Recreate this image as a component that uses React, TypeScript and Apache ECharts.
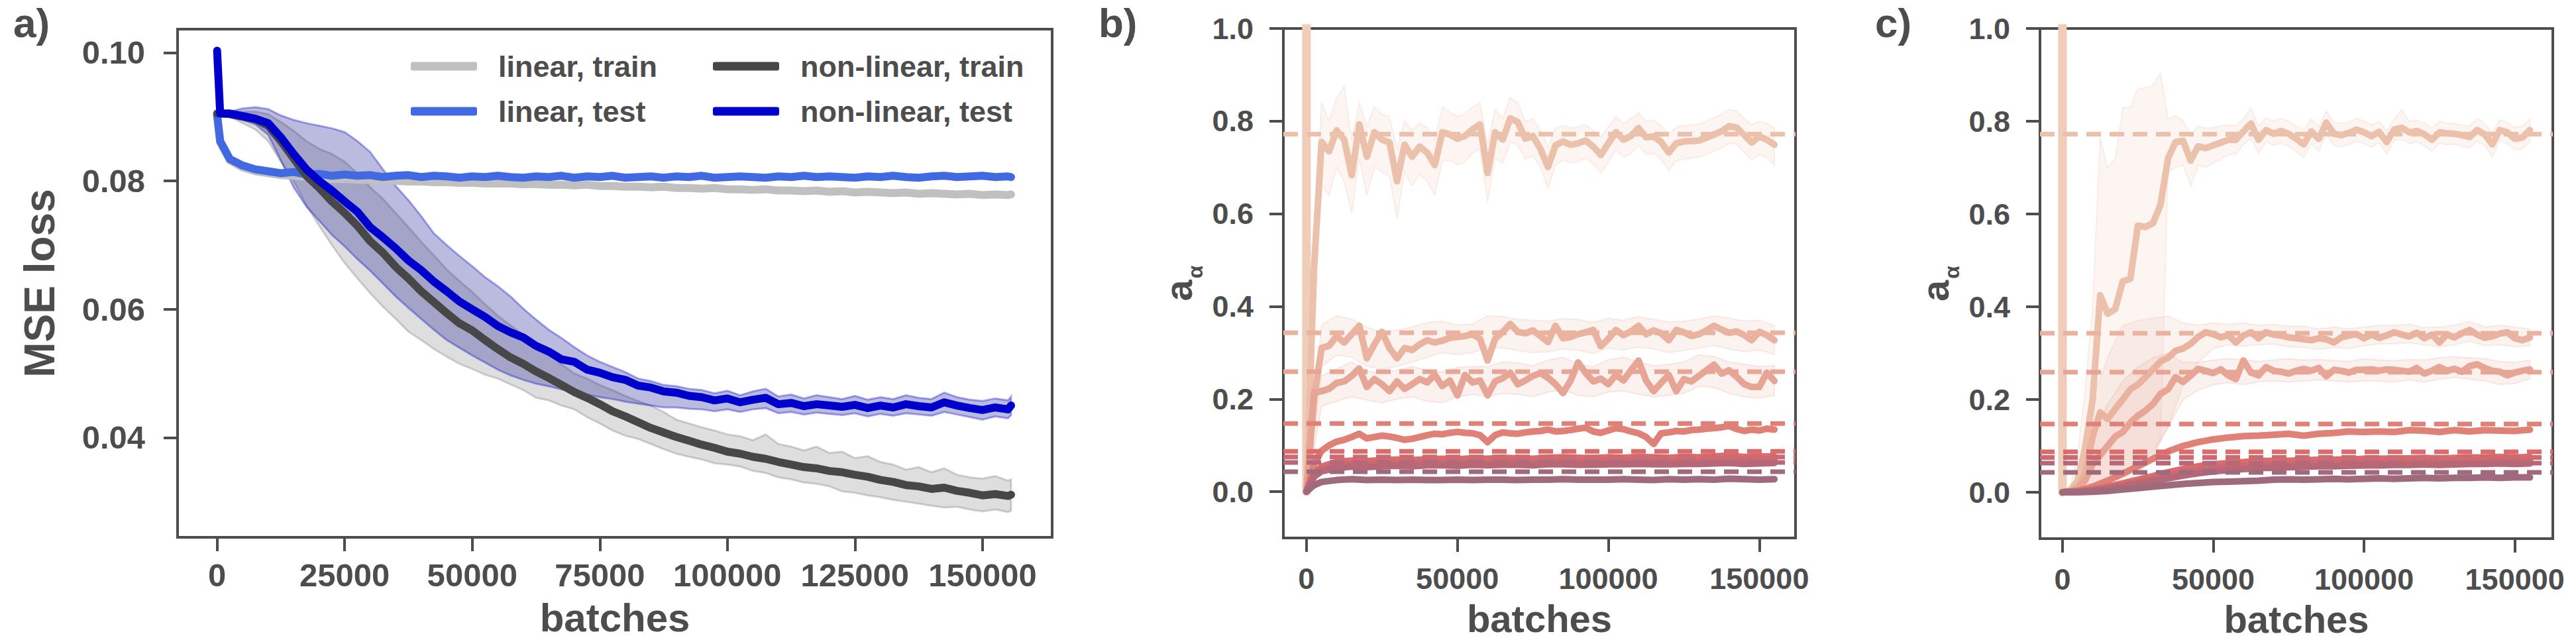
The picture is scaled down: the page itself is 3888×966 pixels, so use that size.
import React, { useEffect, useRef } from "react";
import * as echarts from "echarts";

const TEXT = "#4d4d4d";
const FONT = '"Liberation Sans", Arial, Helvetica, sans-serif';

// ---------------- panel a : MSE loss ----------------
const xA = [0, 600, 2500, 5000, 7500, 10000, 12500, 15000, 17500, 20000,
  22500, 25000, 27500, 30000, 32500, 35000, 37500, 40000, 42500, 45000,
  47500, 50000, 52500, 55000, 57500, 60000, 62500, 65000, 67500, 70000,
  72500, 75000, 77500, 80000, 82500, 85000, 87500, 90000, 92500, 95000,
  97500, 100000, 102500, 105000, 107500, 110000, 112500, 115000, 117500, 120000,
  122500, 125000, 127500, 130000, 132500, 135000, 137500, 140000, 142500, 145000,
  147500, 150000, 152500, 155000, 155600];

const linTrain = [0.0903, 0.0860, 0.0832, 0.0821, 0.0815, 0.0812, 0.0809, 0.0808, 0.0806, 0.0805,
  0.0803, 0.0803, 0.0802, 0.0801, 0.0800, 0.0800, 0.0799, 0.0799, 0.0798, 0.0798,
  0.0797, 0.0797, 0.0796, 0.0796, 0.0796, 0.0795, 0.0795, 0.0794, 0.0794, 0.0793,
  0.0794, 0.0792, 0.0792, 0.0791, 0.0791, 0.0790, 0.0791, 0.0789, 0.0789, 0.0788,
  0.0789, 0.0787, 0.0787, 0.0786, 0.0787, 0.0785, 0.0785, 0.0784, 0.0785, 0.0783,
  0.0784, 0.0782, 0.0783, 0.0782, 0.0781, 0.0782, 0.0780, 0.0781, 0.0780, 0.0779,
  0.0780, 0.0778, 0.0779, 0.0778, 0.0779];

const linTest = [0.0903, 0.0862, 0.0834, 0.0824, 0.0818, 0.0815, 0.0812, 0.0814, 0.0810, 0.0811,
  0.0808, 0.0810, 0.0808, 0.0809, 0.0806, 0.0808, 0.0809, 0.0806, 0.0808, 0.0807,
  0.0805, 0.0807, 0.0806, 0.0808, 0.0806, 0.0805, 0.0807, 0.0806, 0.0808, 0.0805,
  0.0807, 0.0806, 0.0808, 0.0805, 0.0806, 0.0807, 0.0805, 0.0807, 0.0806, 0.0808,
  0.0805, 0.0806, 0.0807, 0.0806, 0.0805, 0.0807, 0.0806, 0.0808, 0.0806, 0.0807,
  0.0806, 0.0805, 0.0807, 0.0806, 0.0808, 0.0806, 0.0805, 0.0807, 0.0808, 0.0806,
  0.0807, 0.0808, 0.0806, 0.0807, 0.0806];

const nlTrain = [0.0905, 0.0905, 0.0904, 0.0900, 0.0896, 0.0886, 0.0862, 0.0835, 0.0808, 0.0789,
  0.0768, 0.0750, 0.0730, 0.0706, 0.0688, 0.0666, 0.0648, 0.0628, 0.0611, 0.0594,
  0.0578, 0.0567, 0.0552, 0.0538, 0.0525, 0.0515, 0.0503, 0.0493, 0.0482, 0.0471,
  0.0462, 0.0452, 0.0441, 0.0433, 0.0424, 0.0415, 0.0408, 0.0401, 0.0395, 0.0389,
  0.0384, 0.0378, 0.0375, 0.0370, 0.0367, 0.0362, 0.0358, 0.0354, 0.0352, 0.0348,
  0.0346, 0.0342, 0.0339, 0.0334, 0.0331, 0.0326, 0.0324, 0.0320, 0.0322, 0.0317,
  0.0314, 0.0310, 0.0312, 0.0309, 0.0311];

const nlTrainHi = [0.0905, 0.0906, 0.0907, 0.0908, 0.0908, 0.0904, 0.0892, 0.0878, 0.0862, 0.0850,
  0.0842, 0.0830, 0.0812, 0.0790, 0.0772, 0.0750, 0.0728, 0.0705, 0.0684, 0.0662,
  0.0644, 0.0627, 0.0608, 0.0590, 0.0575, 0.0560, 0.0545, 0.0530, 0.0514, 0.0500,
  0.0492, 0.0482, 0.0474, 0.0465, 0.0457, 0.0450, 0.0440, 0.0428, 0.0422, 0.0416,
  0.0411, 0.0405, 0.0402, 0.0396, 0.0405, 0.0390, 0.0386, 0.0380, 0.0386, 0.0376,
  0.0378, 0.0368, 0.0371, 0.0362, 0.0358, 0.0350, 0.0354, 0.0346, 0.0352, 0.0342,
  0.0338, 0.0336, 0.0340, 0.0333, 0.0335];

const nlTrainLo = [0.0904, 0.0904, 0.0900, 0.0890, 0.0880, 0.0862, 0.0830, 0.0800, 0.0762, 0.0730,
  0.0700, 0.0672, 0.0648, 0.0625, 0.0604, 0.0585, 0.0565, 0.0552, 0.0538, 0.0526,
  0.0515, 0.0507, 0.0498, 0.0492, 0.0483, 0.0474, 0.0462, 0.0458, 0.0450, 0.0444,
  0.0432, 0.0422, 0.0411, 0.0403, 0.0398, 0.0390, 0.0382, 0.0375, 0.0370, 0.0366,
  0.0360, 0.0358, 0.0355, 0.0348, 0.0345, 0.0338, 0.0335, 0.0330, 0.0328, 0.0324,
  0.0316, 0.0314, 0.0310, 0.0307, 0.0303, 0.0300, 0.0297, 0.0294, 0.0291, 0.0292,
  0.0288, 0.0285, 0.0288, 0.0284, 0.0286];

const nlTest = [0.1003, 0.0905, 0.0905, 0.0901, 0.0897, 0.0890, 0.0868, 0.0842, 0.0818, 0.0800,
  0.0785, 0.0768, 0.0752, 0.0728, 0.0712, 0.0695, 0.0676, 0.0661, 0.0643, 0.0628,
  0.0612, 0.0600, 0.0588, 0.0574, 0.0564, 0.0556, 0.0543, 0.0534, 0.0522, 0.0518,
  0.0506, 0.0501, 0.0494, 0.0490, 0.0481, 0.0478, 0.0472, 0.0470, 0.0465, 0.0463,
  0.0458, 0.0461, 0.0455, 0.0459, 0.0462, 0.0452, 0.0454, 0.0449, 0.0452, 0.0450,
  0.0448, 0.0451, 0.0446, 0.0450, 0.0447, 0.0452, 0.0449, 0.0447, 0.0455, 0.0450,
  0.0446, 0.0443, 0.0447, 0.0444, 0.0450];

const nlTestHi = [0.0905, 0.0906, 0.0908, 0.0913, 0.0915, 0.0912, 0.0902, 0.0895, 0.0890, 0.0886,
  0.0882, 0.0876, 0.0862, 0.0845, 0.0818, 0.0792, 0.0770, 0.0745, 0.0718, 0.0700,
  0.0683, 0.0667, 0.0650, 0.0636, 0.0620, 0.0601, 0.0584, 0.0568, 0.0555, 0.0541,
  0.0528, 0.0518, 0.0510, 0.0502, 0.0492, 0.0488, 0.0482, 0.0480, 0.0476, 0.0474,
  0.0469, 0.0473, 0.0466, 0.0472, 0.0476, 0.0464, 0.0467, 0.0461, 0.0466, 0.0463,
  0.0460, 0.0465, 0.0459, 0.0463, 0.0460, 0.0466, 0.0462, 0.0460, 0.0470, 0.0463,
  0.0459, 0.0457, 0.0461, 0.0458, 0.0464];

const nlTestLo = [0.0905, 0.0904, 0.0900, 0.0895, 0.0888, 0.0872, 0.0832, 0.0790, 0.0760, 0.0738,
  0.0716, 0.0698, 0.0678, 0.0660, 0.0640, 0.0620, 0.0602, 0.0585, 0.0568, 0.0552,
  0.0540, 0.0528, 0.0517, 0.0506, 0.0497, 0.0490, 0.0484, 0.0480, 0.0475, 0.0471,
  0.0467, 0.0463, 0.0460, 0.0456, 0.0453, 0.0450, 0.0447, 0.0447, 0.0445, 0.0444,
  0.0441, 0.0444, 0.0440, 0.0444, 0.0446, 0.0438, 0.0440, 0.0436, 0.0439, 0.0437,
  0.0435, 0.0438, 0.0433, 0.0437, 0.0434, 0.0438, 0.0436, 0.0434, 0.0440, 0.0436,
  0.0432, 0.0428, 0.0433, 0.0430, 0.0435];

const lossTicks = [0.04, 0.06, 0.08, 0.1];
const batchTicksA = [0, 25000, 50000, 75000, 100000, 125000, 150000];
const batchTicksBC = [0, 50000, 100000, 150000];
const alphaTicks = [0, 0.2, 0.4, 0.6, 0.8, 1.0];

// ---------------- panels b and c : a_alpha ----------------
const xB = [0, 2500, 5000, 7500, 10000, 12500, 15000, 17500, 20000, 22500,
  25000, 27500, 30000, 32500, 35000, 37500, 40000, 42500, 45000, 47500,
  50000, 52500, 55000, 57500, 60000, 62500, 65000, 67500, 70000, 72500,
  75000, 77500, 80000, 82500, 85000, 87500, 90000, 92500, 95000, 97500,
  100000, 102500, 105000, 107500, 110000, 112500, 115000, 117500, 120000, 122500,
  125000, 127500, 130000, 132500, 135000, 137500, 140000, 142500, 145000, 147500,
  150000, 152500, 155000];
const xBc = [0, 2500, 5000, 10000, 15000, 20000, 25000, 30000, 35000, 40000, 45000,
  50000, 55000, 60000, 65000, 70000, 75000, 80000, 85000, 90000, 95000, 100000,
  105000, 110000, 115000, 120000, 125000, 130000, 135000, 140000, 145000, 150000, 155000];
const x5 = [0, 5000, 10000, 15000, 20000, 25000, 30000, 35000, 40000, 45000,
  50000, 55000, 60000, 65000, 70000, 75000, 80000, 85000, 90000, 95000,
  100000, 105000, 110000, 115000, 120000, 125000, 130000, 135000, 140000, 145000,
  150000, 155000];

// true values (dashed)
const trueAlpha = [0.772, 0.343, 0.259, 0.147, 0.087, 0.075, 0.063, 0.043];
const spikeXs = [0, 0];
const spikeVals = [0, 1.3];

const b1 = [0.000, 0.480, 0.755, 0.735, 0.780, 0.760, 0.683, 0.793, 0.723, 0.776,
  0.760, 0.754, 0.670, 0.749, 0.723, 0.745, 0.732, 0.705, 0.776, 0.771,
  0.762, 0.768, 0.782, 0.793, 0.688, 0.776, 0.760, 0.806, 0.798, 0.762,
  0.768, 0.740, 0.701, 0.748, 0.756, 0.749, 0.752, 0.758, 0.745, 0.727,
  0.752, 0.776, 0.760, 0.768, 0.785, 0.765, 0.767, 0.755, 0.732, 0.752,
  0.756, 0.757, 0.758, 0.764, 0.771, 0.778, 0.789, 0.786, 0.770, 0.754,
  0.767, 0.760, 0.749];
const b1Hi = [0.000, 0.550, 0.840, 0.800, 0.850, 0.875, 0.760, 0.840, 0.790, 0.830,
  0.815, 0.810, 0.740, 0.800, 0.780, 0.795, 0.785, 0.760, 0.830, 0.820,
  0.810, 0.815, 0.830, 0.840, 0.750, 0.825, 0.805, 0.850, 0.840, 0.800,
  0.805, 0.780, 0.745, 0.785, 0.790, 0.785, 0.788, 0.792, 0.780, 0.765,
  0.788, 0.810, 0.795, 0.805, 0.818, 0.800, 0.802, 0.790, 0.770, 0.788,
  0.790, 0.792, 0.793, 0.800, 0.808, 0.815, 0.825, 0.822, 0.806, 0.792,
  0.800, 0.795, 0.785];
const b1Lo = [0.000, 0.400, 0.660, 0.640, 0.700, 0.670, 0.600, 0.720, 0.640, 0.700,
  0.690, 0.680, 0.590, 0.690, 0.660, 0.685, 0.670, 0.640, 0.715, 0.715,
  0.705, 0.712, 0.730, 0.740, 0.625, 0.720, 0.708, 0.755, 0.748, 0.718,
  0.725, 0.700, 0.655, 0.705, 0.716, 0.710, 0.712, 0.720, 0.708, 0.688,
  0.712, 0.738, 0.722, 0.730, 0.748, 0.728, 0.730, 0.718, 0.694, 0.714,
  0.718, 0.720, 0.722, 0.728, 0.735, 0.742, 0.752, 0.750, 0.732, 0.716,
  0.728, 0.720, 0.705];
const b2 = [0.000, 0.200, 0.310, 0.315, 0.336, 0.322, 0.340, 0.358, 0.288, 0.318,
  0.345, 0.310, 0.288, 0.310, 0.306, 0.318, 0.327, 0.322, 0.326, 0.332,
  0.334, 0.336, 0.340, 0.330, 0.283, 0.330, 0.345, 0.362, 0.345, 0.342,
  0.348, 0.336, 0.323, 0.358, 0.331, 0.334, 0.340, 0.344, 0.349, 0.314,
  0.330, 0.349, 0.338, 0.346, 0.358, 0.340, 0.348, 0.342, 0.327, 0.349,
  0.344, 0.336, 0.340, 0.348, 0.358, 0.350, 0.343, 0.346, 0.338, 0.327,
  0.345, 0.338, 0.327];
const b2Hi = [0.000, 0.360, 0.380, 0.372, 0.355, 0.345, 0.348, 0.356, 0.365, 0.368,
  0.360, 0.362, 0.380, 0.378, 0.372, 0.370, 0.368, 0.374, 0.372, 0.365,
  0.375, 0.370, 0.378, 0.372, 0.366, 0.368, 0.372, 0.380, 0.375, 0.368,
  0.370, 0.358];
const b2Lo = [0.000, 0.270, 0.295, 0.290, 0.270, 0.265, 0.270, 0.280, 0.290, 0.300,
  0.296, 0.300, 0.312, 0.310, 0.305, 0.300, 0.302, 0.308, 0.305, 0.298,
  0.310, 0.306, 0.312, 0.308, 0.300, 0.305, 0.310, 0.316, 0.308, 0.302,
  0.306, 0.296];
const b3 = [0.000, 0.214, 0.217, 0.222, 0.235, 0.238, 0.250, 0.266, 0.226, 0.243,
  0.232, 0.217, 0.238, 0.222, 0.232, 0.243, 0.236, 0.252, 0.228, 0.240,
  0.208, 0.252, 0.236, 0.240, 0.208, 0.238, 0.245, 0.257, 0.232, 0.240,
  0.250, 0.256, 0.246, 0.232, 0.213, 0.240, 0.279, 0.256, 0.238, 0.244,
  0.232, 0.252, 0.240, 0.262, 0.283, 0.240, 0.217, 0.235, 0.252, 0.217,
  0.243, 0.238, 0.250, 0.262, 0.274, 0.255, 0.262, 0.248, 0.232, 0.226,
  0.226, 0.257, 0.239];
const b3Hi = [0.000, 0.250, 0.265, 0.280, 0.260, 0.255, 0.262, 0.270, 0.262, 0.258,
  0.268, 0.270, 0.270, 0.280, 0.278, 0.272, 0.284, 0.290, 0.275, 0.270,
  0.285, 0.290, 0.280, 0.272, 0.275, 0.280, 0.295, 0.292, 0.280, 0.275,
  0.270, 0.272];
const b3Lo = [0.000, 0.185, 0.195, 0.205, 0.198, 0.192, 0.200, 0.205, 0.195, 0.192,
  0.205, 0.210, 0.205, 0.212, 0.210, 0.205, 0.215, 0.220, 0.208, 0.205,
  0.215, 0.218, 0.210, 0.205, 0.208, 0.212, 0.228, 0.225, 0.212, 0.205,
  0.202, 0.208];
const b4 = [0.000, 0.060, 0.088, 0.100, 0.108, 0.112, 0.118, 0.125, 0.115, 0.118,
  0.121, 0.119, 0.116, 0.112, 0.114, 0.118, 0.122, 0.125, 0.124, 0.127,
  0.129, 0.127, 0.126, 0.122, 0.107, 0.122, 0.128, 0.126, 0.125, 0.128,
  0.130, 0.131, 0.134, 0.130, 0.131, 0.133, 0.136, 0.138, 0.130, 0.127,
  0.132, 0.137, 0.135, 0.130, 0.126, 0.118, 0.103, 0.126, 0.128, 0.131,
  0.130, 0.133, 0.134, 0.136, 0.137, 0.139, 0.142, 0.135, 0.131, 0.134,
  0.132, 0.136, 0.134];
const b5 = [0, 0.040, 0.054, 0.064, 0.067, 0.066, 0.068, 0.069, 0.068, 0.070,
  0.071, 0.070, 0.072, 0.071, 0.073, 0.072, 0.071, 0.073, 0.074, 0.073,
  0.072, 0.074, 0.073, 0.075, 0.074, 0.073, 0.075, 0.074, 0.076, 0.078,
  0.075, 0.076, 0.076];
const b6 = [0, 0.036, 0.049, 0.057, 0.060, 0.059, 0.061, 0.062, 0.061, 0.063,
  0.063, 0.062, 0.064, 0.063, 0.065, 0.064, 0.063, 0.065, 0.066, 0.065,
  0.064, 0.066, 0.065, 0.067, 0.066, 0.065, 0.067, 0.066, 0.068, 0.069,
  0.067, 0.068, 0.069];
const b7 = [0, 0.032, 0.044, 0.051, 0.054, 0.053, 0.055, 0.056, 0.055, 0.057,
  0.057, 0.056, 0.058, 0.057, 0.058, 0.058, 0.057, 0.059, 0.059, 0.058,
  0.058, 0.059, 0.059, 0.060, 0.059, 0.059, 0.060, 0.060, 0.061, 0.062,
  0.060, 0.061, 0.062];
const b8 = [0, 0.014, 0.021, 0.025, 0.027, 0.025, 0.026, 0.025, 0.026, 0.025,
  0.025, 0.026, 0.025, 0.026, 0.026, 0.025, 0.026, 0.026, 0.027, 0.026,
  0.026, 0.026, 0.027, 0.026, 0.025, 0.027, 0.026, 0.027, 0.026, 0.028,
  0.027, 0.026, 0.027];

const c1 = [0.000, 0.003, 0.025, 0.095, 0.200, 0.425, 0.385, 0.395, 0.455, 0.460,
  0.575, 0.572, 0.580, 0.620, 0.720, 0.755, 0.758, 0.715, 0.746, 0.742,
  0.748, 0.754, 0.760, 0.760, 0.778, 0.795, 0.760, 0.781, 0.773, 0.779,
  0.773, 0.762, 0.750, 0.778, 0.762, 0.797, 0.773, 0.770, 0.775, 0.782,
  0.776, 0.768, 0.777, 0.755, 0.782, 0.786, 0.776, 0.779, 0.772, 0.760,
  0.776, 0.774, 0.773, 0.770, 0.766, 0.781, 0.772, 0.750, 0.781, 0.776,
  0.762, 0.765, 0.781];
const c1Hi = [0.000, 0.010, 0.080, 0.220, 0.400, 0.765, 0.700, 0.720, 0.830, 0.830,
  0.870, 0.872, 0.878, 0.905, 0.805, 0.812, 0.800, 0.770, 0.790, 0.785,
  0.786, 0.790, 0.792, 0.790, 0.805, 0.828, 0.790, 0.808, 0.800, 0.806,
  0.800, 0.790, 0.780, 0.805, 0.788, 0.822, 0.798, 0.795, 0.798, 0.806,
  0.800, 0.792, 0.800, 0.780, 0.805, 0.825, 0.800, 0.802, 0.796, 0.785,
  0.800, 0.796, 0.795, 0.792, 0.790, 0.805, 0.795, 0.775, 0.803, 0.798,
  0.786, 0.790, 0.805];
const c1Lo = [0.000, 0.000, 0.000, 0.005, 0.010, 0.020, 0.025, 0.030, 0.040, 0.050,
  0.060, 0.070, 0.080, 0.110, 0.690, 0.700, 0.705, 0.660, 0.705, 0.700,
  0.710, 0.718, 0.728, 0.730, 0.750, 0.762, 0.730, 0.755, 0.748, 0.752,
  0.746, 0.735, 0.722, 0.752, 0.735, 0.772, 0.748, 0.745, 0.750, 0.757,
  0.752, 0.744, 0.753, 0.730, 0.758, 0.762, 0.752, 0.755, 0.748, 0.735,
  0.752, 0.750, 0.750, 0.746, 0.742, 0.757, 0.748, 0.722, 0.757, 0.752,
  0.738, 0.740, 0.756];
const c2 = [0.000, 0.003, 0.012, 0.040, 0.120, 0.172, 0.158, 0.180, 0.200, 0.222,
  0.232, 0.248, 0.265, 0.282, 0.290, 0.305, 0.310, 0.320, 0.335, 0.345,
  0.341, 0.334, 0.339, 0.323, 0.338, 0.345, 0.332, 0.345, 0.340, 0.338,
  0.334, 0.332, 0.330, 0.328, 0.332, 0.330, 0.323, 0.334, 0.338, 0.341,
  0.332, 0.340, 0.333, 0.338, 0.345, 0.340, 0.336, 0.344, 0.332, 0.340,
  0.323, 0.340, 0.334, 0.343, 0.350, 0.340, 0.333, 0.336, 0.342, 0.345,
  0.332, 0.328, 0.334];
const c2Hi = [0.000, 0.030, 0.200, 0.290, 0.360, 0.370, 0.375, 0.380, 0.365, 0.360,
  0.365, 0.362, 0.365, 0.360, 0.362, 0.358, 0.358, 0.352, 0.356, 0.352,
  0.356, 0.360, 0.360, 0.362, 0.355, 0.356, 0.360, 0.368, 0.356, 0.360,
  0.356, 0.352];
const c2Lo = [0.000, 0.000, 0.010, 0.020, 0.040, 0.060, 0.090, 0.140, 0.230, 0.280,
  0.310, 0.318, 0.315, 0.318, 0.320, 0.314, 0.312, 0.308, 0.312, 0.310,
  0.316, 0.320, 0.320, 0.322, 0.318, 0.314, 0.318, 0.326, 0.316, 0.318,
  0.314, 0.316];
const c3 = [0.000, 0.002, 0.008, 0.025, 0.060, 0.080, 0.100, 0.120, 0.130, 0.150,
  0.165, 0.176, 0.190, 0.212, 0.222, 0.248, 0.238, 0.252, 0.266, 0.262,
  0.257, 0.265, 0.252, 0.244, 0.284, 0.258, 0.252, 0.270, 0.262, 0.260,
  0.256, 0.262, 0.266, 0.262, 0.268, 0.250, 0.264, 0.262, 0.258, 0.264,
  0.264, 0.265, 0.262, 0.265, 0.264, 0.262, 0.260, 0.268, 0.256, 0.262,
  0.270, 0.262, 0.266, 0.260, 0.272, 0.276, 0.268, 0.262, 0.260, 0.252,
  0.258, 0.262, 0.265];
const c3Hi = [0.000, 0.020, 0.120, 0.190, 0.240, 0.270, 0.290, 0.300, 0.280, 0.280,
  0.285, 0.288, 0.286, 0.282, 0.285, 0.288, 0.285, 0.286, 0.284, 0.282,
  0.288, 0.285, 0.284, 0.286, 0.285, 0.290, 0.292, 0.290, 0.288, 0.282,
  0.280, 0.285];
const c3Lo = [0.000, 0.000, 0.005, 0.010, 0.020, 0.040, 0.080, 0.140, 0.200, 0.220,
  0.232, 0.236, 0.232, 0.238, 0.240, 0.238, 0.240, 0.242, 0.240, 0.238,
  0.240, 0.240, 0.238, 0.242, 0.238, 0.244, 0.248, 0.244, 0.240, 0.232,
  0.235, 0.245];
const c4 = [0, 0.003, 0.012, 0.025, 0.040, 0.056, 0.072, 0.088, 0.100, 0.108,
  0.114, 0.118, 0.121, 0.122, 0.124, 0.126, 0.122, 0.126, 0.128, 0.131,
  0.130, 0.131, 0.130, 0.134, 0.133, 0.130, 0.134, 0.131, 0.134, 0.133,
  0.132, 0.135];
const c5 = [0, 0.002, 0.006, 0.012, 0.019, 0.027, 0.035, 0.043, 0.050, 0.056,
  0.060, 0.063, 0.065, 0.067, 0.068, 0.068, 0.069, 0.070, 0.070, 0.071,
  0.072, 0.072, 0.073, 0.073, 0.074, 0.073, 0.074, 0.075, 0.075, 0.076,
  0.075, 0.076];
const c6 = [0, 0.001, 0.004, 0.009, 0.015, 0.022, 0.029, 0.036, 0.042, 0.048,
  0.052, 0.055, 0.057, 0.059, 0.060, 0.061, 0.062, 0.063, 0.063, 0.064,
  0.065, 0.065, 0.066, 0.066, 0.067, 0.066, 0.067, 0.068, 0.068, 0.069,
  0.068, 0.069];
const c7 = [0, 0.001, 0.003, 0.007, 0.012, 0.018, 0.024, 0.030, 0.036, 0.041,
  0.045, 0.048, 0.050, 0.052, 0.053, 0.054, 0.055, 0.056, 0.056, 0.057,
  0.058, 0.058, 0.059, 0.059, 0.060, 0.059, 0.060, 0.061, 0.061, 0.062,
  0.061, 0.062];
const c8 = [0, 0.000, 0.001, 0.003, 0.006, 0.009, 0.012, 0.015, 0.018, 0.020,
  0.022, 0.023, 0.024, 0.025, 0.027, 0.028, 0.027, 0.028, 0.029, 0.028,
  0.029, 0.030, 0.029, 0.030, 0.031, 0.030, 0.031, 0.031, 0.032, 0.031,
  0.032, 0.032];

const curveColors = ["#ebc1ac", "#e9b3a0", "#e7a595", "#e08178", "#dc6c6c", "#cb6a70", "#b66879", "#9f6a7c"];
const spikeColor = "#efcdb9";

// axis limits
const A_X = [-7750, 163650];
const A_Y = [0.02446, 0.10365];
const B_X = [-7650, 162000];
const C_X = [-7450, 162600];
const BC_Y = [-0.1, 1.0];

function pairs(xs: number[], ys: number[]) {
  const n = Math.min(xs.length, ys.length);
  const out: number[][] = [];
  for (let i = 0; i < n; i++) out.push([xs[i], ys[i]]);
  return out;
}

function rgba(hex: string, a: number) {
  const r = parseInt(hex.slice(1, 3), 16);
  const g = parseInt(hex.slice(3, 5), 16);
  const b = parseInt(hex.slice(5, 7), 16);
  return `rgba(${r},${g},${b},${a})`;
}

function band(xs: number[], lo: number[], hi: number[], fill: string, stroke: string, gi: number, sw = 2) {
  const n = Math.min(xs.length, lo.length, hi.length);
  return {
    type: "custom",
    xAxisIndex: gi,
    yAxisIndex: gi,
    z: 1,
    silent: true,
    clip: true,
    data: [[xs[0], lo[0]]],
    encode: { x: 0, y: 1 },
    renderItem: (_p: any, api: any) => {
      const pts: number[][] = [];
      for (let i = 0; i < n; i++) pts.push(api.coord([xs[i], hi[i]]));
      for (let i = n - 1; i >= 0; i--) pts.push(api.coord([xs[i], lo[i]]));
      return { type: "polygon", shape: { points: pts }, style: { fill, stroke, lineWidth: sw } };
    },
  };
}

function line(name: string, xs: number[], ys: number[], color: string, width: number, gi: number, z = 2, dashed = false) {
  return {
    type: "line",
    name,
    xAxisIndex: gi,
    yAxisIndex: gi,
    data: pairs(xs, ys),
    showSymbol: false,
    symbol: "none",
    silent: true,
    clip: true,
    z,
    color,
    itemStyle: { color },
    lineStyle: {
      color,
      width,
      cap: dashed ? "butt" : "round",
      join: "round",
      type: dashed ? [22, 13] : "solid",
    },
  };
}

function xAxis(gi: number, lim: number[], ticks: number[], fs: number, margin: number, nameFs: number, nameGap: number) {
  return {
    type: "value",
    gridIndex: gi,
    min: lim[0],
    max: lim[1],
    name: "batches",
    nameLocation: "middle",
    nameGap,
    nameMoveOverlap: false,
    nameTextStyle: { fontSize: nameFs, fontWeight: "bold", color: TEXT, fontFamily: FONT, lineHeight: nameFs },
    axisLine: { show: false, onZero: false },
    axisTick: { show: true, length: 21, lineStyle: { width: 4, color: TEXT }, customValues: ticks },
    axisLabel: {
      show: true,
      customValues: ticks,
      fontSize: fs,
      fontWeight: "bold",
      color: TEXT,
      fontFamily: FONT,
      margin,
      formatter: (v: number) => String(Math.round(v)),
    },
    splitLine: { show: false },
  };
}

function yAxis(gi: number, lim: number[], ticks: number[], fs: number, margin: number, digits: number, name: string, nameGap: number, nameStyle: any) {
  return {
    type: "value",
    gridIndex: gi,
    min: lim[0],
    max: lim[1],
    name,
    nameLocation: "middle",
    nameGap,
    nameMoveOverlap: false,
    nameTextStyle: nameStyle,
    axisLine: { show: false, onZero: false },
    axisTick: { show: true, length: 21, lineStyle: { width: 4, color: TEXT }, customValues: ticks },
    axisLabel: {
      show: true,
      customValues: ticks,
      fontSize: fs,
      fontWeight: "bold",
      color: TEXT,
      fontFamily: FONT,
      margin,
      formatter: (v: number) => v.toFixed(digits),
    },
    splitLine: { show: false },
  };
}

const alphaName = {
  rich: {
    a: { fontSize: 58, fontWeight: "bold", color: TEXT, fontFamily: FONT, lineHeight: 58, verticalAlign: "top" },
    s: { fontSize: 32, fontWeight: "bold", color: TEXT, fontFamily: FONT, lineHeight: 32, verticalAlign: "top", padding: [39, 0, 0, 2] },
  },
};

function alphaPanel(gi: number, lim: number[], curves: { xs: number[]; ys: number[] }[], bands: any[]) {
  const s: any[] = [];
  bands.forEach((b) => s.push(band(b.xs, b.lo, b.hi, rgba(curveColors[b.k], 0.16), rgba(curveColors[b.k], 0.22), gi, 2)));
  s.push(line("", spikeXs, spikeVals, spikeColor, 13, gi, 2));
  curves.forEach((c, k) => s.push(line("", c.xs, c.ys, curveColors[k], 10, gi, 2)));
  trueAlpha.forEach((v, k) => s.push(line("", lim, [v, v], curveColors[k], 7, gi, 3, true)));
  return s;
}

function buildOption() {
  const gridBase = { show: true, borderWidth: 4, borderColor: TEXT, backgroundColor: "transparent", containLabel: false, outerBoundsMode: "none" };
  const legendBase = {
    orient: "vertical",
    top: 77,
    padding: 0,
    itemWidth: 100,
    itemHeight: 13,
    itemGap: 22,
    icon: "roundRect",
    selectedMode: false,
    formatter: (name: string) => `{gap| }${name}`,
    textStyle: {
      fontSize: 45,
      fontWeight: "bold",
      color: TEXT,
      fontFamily: FONT,
      lineHeight: 46,
      rich: { gap: { width: 27, lineHeight: 46, fontSize: 45 } },
    },
  };
  const series: any[] = [
    band(xA, nlTrainLo, nlTrainHi, "rgba(70,70,70,0.18)", "rgba(70,70,70,0.22)", 0, 3),
    band(xA, nlTestLo, nlTestHi, "rgba(30,30,150,0.3)", "rgba(0,0,205,0.33)", 0, 3),
    line("linear, train", xA, linTrain, "#c0c0c0", 12, 0),
    line("linear, test", xA, linTest, "#4169e1", 12, 0),
    line("non-linear, train", xA, nlTrain, "#474747", 12, 0),
    line("non-linear, test", xA, nlTest, "#0000cd", 12, 0),
    ...alphaPanel(1, B_X,
      [
        { xs: xB, ys: b1 }, { xs: xB, ys: b2 }, { xs: xB, ys: b3 }, { xs: xB, ys: b4 },
        { xs: xBc, ys: b5 }, { xs: xBc, ys: b6 }, { xs: xBc, ys: b7 }, { xs: xBc, ys: b8 },
      ],
      [
        { xs: xB, lo: b1Lo, hi: b1Hi, k: 0 },
        { xs: x5, lo: b2Lo, hi: b2Hi, k: 1 },
        { xs: x5, lo: b3Lo, hi: b3Hi, k: 2 },
      ]),
    ...alphaPanel(2, C_X,
      [
        { xs: xB, ys: c1 }, { xs: xB, ys: c2 }, { xs: xB, ys: c3 }, { xs: x5, ys: c4 },
        { xs: x5, ys: c5 }, { xs: x5, ys: c6 }, { xs: x5, ys: c7 }, { xs: x5, ys: c8 },
      ],
      [
        { xs: xB, lo: c1Lo, hi: c1Hi, k: 0 },
        { xs: x5, lo: c2Lo, hi: c2Hi, k: 1 },
        { xs: x5, lo: c3Lo, hi: c3Hi, k: 2 },
      ]),
  ];

  return {
    animation: false,
    backgroundColor: "#ffffff",
    textStyle: { fontFamily: FONT },
    grid: [
      { ...gridBase, left: 268, top: 44, width: 1320, height: 767 },
      { ...gridBase, left: 1937, top: 43, width: 773, height: 769 },
      { ...gridBase, left: 3079, top: 43, width: 774, height: 770 },
    ],
    xAxis: [
      xAxis(0, A_X, batchTicksA, 49, 32, 60, 91),
      xAxis(1, B_X, batchTicksBC, 45, 39, 58, 92),
      xAxis(2, C_X, batchTicksBC, 45, 39, 58, 92),
    ],
    yAxis: [
      yAxis(0, A_Y, lossTicks, 49, 49, 2, "MSE loss", 176, { fontSize: 64, fontWeight: "bold", color: TEXT, fontFamily: FONT, lineHeight: 64 }),
      yAxis(1, BC_Y, alphaTicks, 45, 45, 1, "{a|a}{s|α}", 130, alphaName),
      yAxis(2, BC_Y, alphaTicks, 45, 45, 1, "{a|a}{s|α}", 130, alphaName),
    ],
    legend: [
      { ...legendBase, left: 620, data: ["linear, train", "linear, test"] },
      { ...legendBase, left: 1076, data: ["non-linear, train", "non-linear, test"] },
    ],
    graphic: [
      { type: "text", x: 20, y: 3, style: { text: "a)", fill: TEXT, font: `bold 62px ${FONT}`, verticalAlign: "top", textVerticalAlign: "top" } },
      { type: "text", x: 1658, y: 3, style: { text: "b)", fill: TEXT, font: `bold 62px ${FONT}`, verticalAlign: "top", textVerticalAlign: "top" } },
      { type: "text", x: 2830, y: 3, style: { text: "c)", fill: TEXT, font: `bold 62px ${FONT}`, verticalAlign: "top", textVerticalAlign: "top" } },
    ],
    series,
  };
}

export default function App() {
  const ref = useRef<HTMLDivElement>(null);
  useEffect(() => {
    if (!ref.current) return;
    const chart = echarts.init(ref.current, null, { renderer: "svg" });
    chart.setOption(buildOption() as any);
    return () => chart.dispose();
  }, []);
  return (
    <div
      ref={ref}
      style={{ position: "absolute", left: 0, top: 0, width: 3888, height: 966, background: "#fff" }}
    />
  );
}
